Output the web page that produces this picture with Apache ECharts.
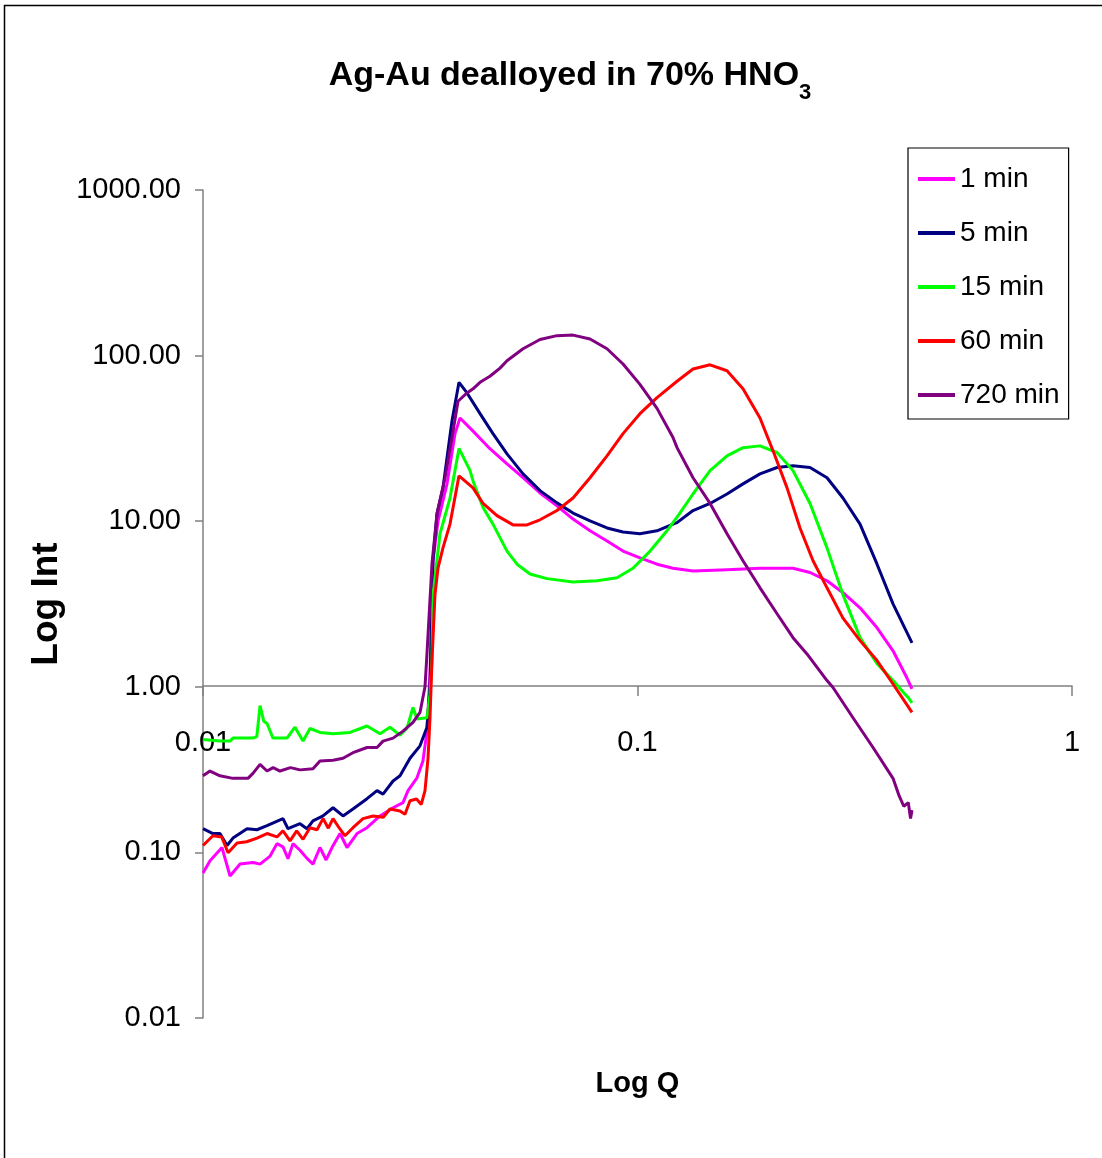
<!DOCTYPE html>
<html>
<head>
<meta charset="utf-8">
<script src="https://cdn.jsdelivr.net/npm/echarts@6/dist/echarts.min.js"></script>
<style>
html,body{margin:0;padding:0;background:#fff;}
#chart{width:1102px;height:1158px;}
</style>
</head>
<body>
<div id="chart"></div>
<script>
// ---- data: [Q, Intensity] ----
const seriesNames = ['1 min', '5 min', '15 min', '60 min', '720 min'];
const seriesColors = ['#FF00FF', '#000080', '#00FF00', '#FF0000', '#800080'];

const xTickLabels = ['0.01', '0.1', '1'];
const yTickLabels = ['0.01', '0.10', '1.00', '10.00', '100.00', '1000.00'];

const min1 = [
  [0.0100,0.075],[0.01038,0.089],[0.01106,0.107],[0.01154,0.072],[0.01217,0.085],[0.01303,0.087],
  [0.01353,0.085],[0.01427,0.095],[0.01480,0.113],[0.01528,0.108],[0.01569,0.0915],[0.01611,0.113],
  [0.01672,0.103],[0.01735,0.092],[0.01791,0.085],[0.01859,0.107],[0.01920,0.090],[0.01981,0.107],
  [0.02067,0.130],[0.02145,0.107],[0.02262,0.130],[0.02385,0.141],[0.02555,0.166],[0.02738,0.186],
  [0.02886,0.200],[0.02964,0.236],[0.03108,0.282],[0.03208,0.357],[0.03277,0.54],[0.03330,1.2],
  [0.03383,5.77],[0.03474,10.0],[0.03644,16.8],[0.03802,33.8],[0.03904,42.0],[0.04183,35.0],
  [0.04575,27.4],[0.05008,22.2],[0.05452,18.3],[0.05965,14.8],[0.06527,12.4],[0.07106,10.3],
  [0.07776,8.75],[0.08508,7.6],[0.09262,6.6],[0.1013,6.0],[0.1109,5.5],[0.1207,5.2],[0.1342,5.0],
  [0.1607,5.1],[0.1914,5.2],[0.2280,5.2],[0.2495,4.9],[0.2730,4.37],[0.2971,3.7],[0.3252,3.0],
  [0.3559,2.27],[0.3873,1.65],[0.4171,1.13],[0.4283,0.97]
];

const min5 = [
  [0.0100,0.139],[0.01054,0.130],[0.01094,0.130],[0.01136,0.110],[0.01172,0.122],[0.01263,0.139],
  [0.01331,0.137],[0.01404,0.145],[0.01528,0.160],[0.01569,0.139],[0.01672,0.149],[0.01735,0.139],
  [0.01791,0.155],[0.01889,0.166],[0.01992,0.186],[0.02100,0.166],[0.02214,0.183],[0.02385,0.211],
  [0.02515,0.236],[0.02596,0.225],[0.02738,0.270],[0.02841,0.290],[0.02995,0.370],[0.03158,0.440],
  [0.03277,0.57],[0.03330,1.0],[0.03365,3.0],[0.03383,5.77],[0.03456,11.1],[0.03567,15.9],
  [0.03742,40.4],[0.03883,69.0],[0.04052,59.5],[0.04341,44.6],[0.04649,33.8],[0.05008,25.5],
  [0.05452,19.3],[0.05965,15.3],[0.06527,12.9],[0.07106,11.2],[0.07776,10.06],[0.08508,9.1],
  [0.09262,8.6],[0.1013,8.4],[0.1109,8.75],[0.1207,9.6],[0.1233,9.8],[0.1342,11.6],[0.1469,12.8],
  [0.1607,14.6],[0.1749,16.8],[0.1914,19.3],[0.2095,21.1],[0.2280,21.6],[0.2495,21.1],[0.2730,18.3],
  [0.2971,13.8],[0.3252,9.6],[0.3559,5.5],[0.3873,3.17],[0.4283,1.84]
];

const min15 = [
  [0.0100,0.48],[0.01094,0.47],[0.01154,0.47],[0.01172,0.49],[0.01236,0.49],[0.01303,0.49],
  [0.01330,0.50],[0.01353,0.77],[0.01380,0.62],[0.01404,0.60],[0.01449,0.49],[0.01561,0.49],
  [0.01628,0.57],[0.01699,0.47],[0.01763,0.56],[0.01859,0.53],[0.01992,0.52],[0.02179,0.53],
  [0.02385,0.58],[0.02555,0.52],[0.02694,0.57],[0.02841,0.51],[0.02949,0.565],[0.03043,0.75],
  [0.03108,0.64],[0.03277,0.65],[0.03330,0.9],[0.03365,1.44],[0.03383,3.6],[0.03511,8.4],
  [0.03702,13.8],[0.03883,27.5],[0.04117,20.2],[0.04183,17.5],[0.04411,12.1],[0.04649,9.6],
  [0.05008,6.6],[0.05282,5.5],[0.05657,4.8],[0.06191,4.5],[0.07106,4.3],[0.08069,4.37],
  [0.08972,4.55],[0.09763,5.2],[0.1069,6.6],[0.1169,8.75],[0.1246,11.0],[0.1342,14.6],
  [0.1469,20.2],[0.1607,24.8],[0.1749,27.8],[0.1914,28.5],[0.2095,26.0],[0.2280,20.2],
  [0.2495,12.8],[0.2730,6.9],[0.2971,3.6],[0.3252,1.98],[0.3559,1.38],[0.3873,1.09],
  [0.4100,0.92],[0.4200,0.86],[0.4283,0.80]
];

const min60 = [
  [0.0100,0.110],[0.01054,0.126],[0.01104,0.124],[0.01142,0.0995],[0.01198,0.114],[0.01260,0.116],
  [0.01331,0.122],[0.01404,0.130],[0.01480,0.124],[0.01528,0.135],[0.01586,0.1175],[0.01643,0.135],
  [0.01699,0.120],[0.01763,0.141],[0.01830,0.137],[0.01889,0.160],[0.01943,0.140],[0.01992,0.160],
  [0.02060,0.140],[0.02122,0.126],[0.02214,0.141],[0.02335,0.160],[0.02462,0.166],[0.02600,0.163],
  [0.02694,0.183],[0.02840,0.178],[0.02917,0.170],[0.02995,0.205],[0.03100,0.210],[0.03180,0.195],
  [0.03243,0.236],[0.03295,0.37],[0.03330,0.65],[0.03365,1.44],[0.03419,3.6],[0.03474,5.2],
  [0.03567,6.9],[0.03702,9.6],[0.03883,18.8],[0.04183,15.9],[0.04411,12.8],[0.04749,10.8],
  [0.05171,9.5],[0.05568,9.5],[0.05965,10.2],[0.06527,11.6],[0.07106,13.8],[0.07776,18.3],
  [0.08508,24.8],[0.09262,33.8],[0.1013,44.6],[0.1109,55.7],[0.1233,70.0],[0.1342,83.0],
  [0.1469,88.0],[0.1607,81.0],[0.1749,63.0],[0.1914,42.0],[0.2051,26.6],[0.2209,15.9],
  [0.2366,9.1],[0.2535,5.77],[0.2730,3.96],[0.2971,2.6],[0.3252,1.9],[0.3559,1.44],
  [0.3873,1.04],[0.4283,0.70]
];

const min720 = [
  [0.0100,0.29],[0.01038,0.31],[0.01094,0.29],[0.01172,0.28],[0.01269,0.28],[0.01303,0.30],
  [0.01353,0.34],[0.01404,0.31],[0.01450,0.325],[0.01504,0.31],[0.01590,0.325],[0.01672,0.315],
  [0.01791,0.32],[0.01859,0.357],[0.01992,0.36],[0.02100,0.37],[0.02214,0.40],[0.02385,0.43],
  [0.02515,0.43],[0.02596,0.47],[0.02738,0.49],[0.02886,0.54],[0.03043,0.61],[0.03158,0.70],
  [0.03243,1.0],[0.03277,1.58],[0.03365,5.5],[0.03456,11.1],[0.03606,18.3],[0.03742,32.0],
  [0.03863,53.0],[0.04052,59.5],[0.04183,63.0],[0.04341,69.0],[0.04575,75.0],[0.04826,84.0],
  [0.05008,93.0],[0.05452,110],[0.05965,125],[0.06527,132],[0.07106,133],[0.07776,126],
  [0.08508,110],[0.09262,89.0],[0.1013,67.0],[0.1109,48.0],[0.1207,32.0],[0.1233,27.8],
  [0.1342,18.3],[0.1469,12.8],[0.1607,8.4],[0.1749,5.77],[0.1914,3.96],[0.2095,2.76],
  [0.2280,1.98],[0.2455,1.58],[0.2730,1.09],[0.2818,0.99],[0.3133,0.65],[0.3484,0.43],
  [0.3873,0.28],[0.4000,0.22],[0.4100,0.19],[0.4200,0.20],[0.4250,0.16],[0.4283,0.18]
];

const seriesData = [min1, min5, min15, min60, min720];

const FONT = "'Liberation Sans', Arial, sans-serif";

const chart = echarts.init(document.getElementById('chart'), null, {renderer: 'canvas'});

const option = {
  backgroundColor: '#ffffff',
  animation: false,
  title: {
    text: '{a|Ag-Au dealloyed in 70% HNO}{b|3}',
    left: 565,
    top: 48,
    textAlign: 'center',
    textStyle: {
      rich: {
        a: {fontFamily: FONT, fontSize: 34, fontWeight: 'bold', color: '#000', lineHeight: 46},
        b: {fontFamily: FONT, fontSize: 22, fontWeight: 'bold', color: '#000', lineHeight: 46, verticalAlign: 'bottom', padding: [0, 0, -5, 0]}
      }
    }
  },
  legend: {
    orient: 'vertical',
    left: 908,
    top: 148,
    padding: [11, 9, 4, 10],
    itemGap: 14,
    itemWidth: 37,
    itemHeight: 4,
    icon: 'rect',
    borderColor: '#000',
    borderWidth: 1.2,
    backgroundColor: '#fff',
    textStyle: {fontFamily: FONT, fontSize: 28, color: '#000', lineHeight: 40},
    data: seriesNames
  },
  grid: {left: 203, right: 30, top: 190, bottom: 140, containLabel: false},
  xAxis: {
    type: 'log',
    logBase: 10,
    min: 0.01,
    max: 1,
    position: 'bottom',
    offset: -332,
    name: 'Log Q',
    nameLocation: 'middle',
    nameGap: 383,
    nameTextStyle: {fontFamily: FONT, fontSize: 29, fontWeight: 'bold', color: '#000'},
    axisLine: {show: true, lineStyle: {color: '#808080', width: 1.5}},
    axisTick: {show: true, inside: false, length: 10, lineStyle: {color: '#808080', width: 1.5}},
    minorTick: {show: false},
    splitLine: {show: false},
    axisLabel: {
      margin: 42,
      fontFamily: FONT, fontSize: 29, color: '#000',
      formatter: function (v, i) { return xTickLabels[i]; }
    }
  },
  yAxis: {
    type: 'log',
    logBase: 10,
    min: 0.01,
    max: 1000,
    name: 'Log Int',
    nameLocation: 'middle',
    nameGap: 133,
    nameRotate: 90,
    nameTextStyle: {fontFamily: FONT, fontSize: 37, fontWeight: 'bold', color: '#000'},
    axisLine: {show: true, lineStyle: {color: '#808080', width: 1.5}},
    axisTick: {show: true, inside: false, length: 8, lineStyle: {color: '#808080', width: 1.5}},
    minorTick: {show: false},
    splitLine: {show: false},
    axisLabel: {
      margin: 22,
      fontFamily: FONT, fontSize: 29, color: '#000',
      formatter: function (v, i) { return yTickLabels[i]; }
    }
  },
  graphic: [{
    type: 'rect',
    shape: {x: 4.5, y: 5.5, width: 1110, height: 1170},
    style: {fill: null, stroke: '#000', lineWidth: 1.5},
    silent: true,
    z: -10
  }],
  series: seriesNames.map(function (name, k) {
    return {
      name: name,
      type: 'line',
      data: seriesData[k],
      symbol: 'none',
      smooth: false,
      clip: false,
      lineStyle: {color: seriesColors[k], width: 3},
      itemStyle: {color: seriesColors[k]},
      z: 2
    };
  })
};

chart.setOption(option);
</script>
</body>
</html>
